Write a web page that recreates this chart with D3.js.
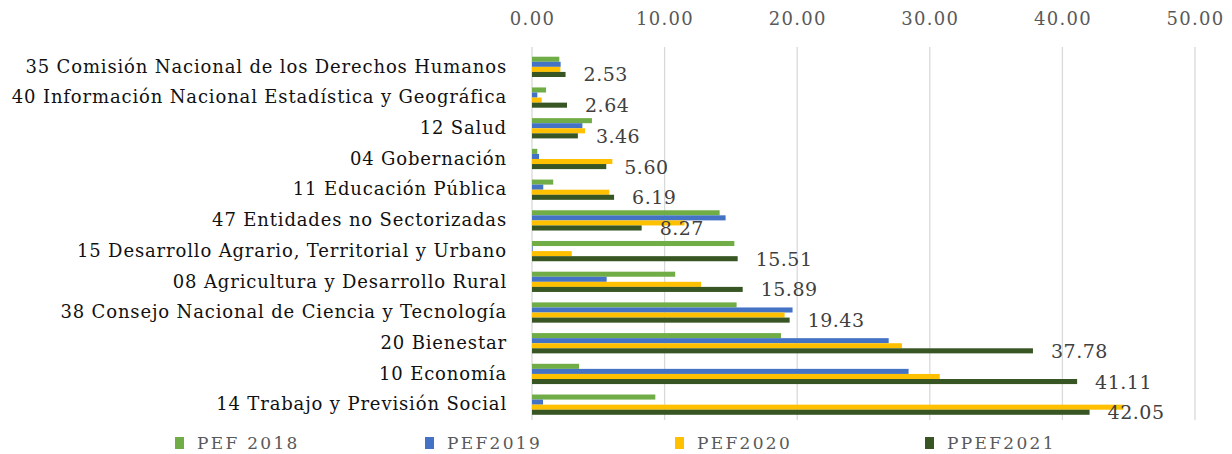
<!DOCTYPE html>
<html>
<head>
<meta charset="utf-8">
<script src="https://cdn.jsdelivr.net/npm/d3@7"></script>
<style>
  body { margin: 0; background: #fff; }
  svg { display: block; }
  svg text { font-family: "DejaVu Serif", "Liberation Serif", serif; }
</style>
</head>
<body>
<div id="chart"></div>
<script>
// categories (top to bottom)
const categories = [
  "35 Comisión Nacional de los Derechos Humanos",
  "40 Información Nacional Estadística y Geográfica",
  "12 Salud",
  "04 Gobernación",
  "11 Educación Pública",
  "47 Entidades no Sectorizadas",
  "15 Desarrollo Agrario, Territorial y Urbano",
  "08 Agricultura y Desarrollo Rural",
  "38 Consejo Nacional de Ciencia y Tecnología",
  "20 Bienestar",
  "10 Economía",
  "14 Trabajo y Previsión Social"
];
const seriesNames = ["PEF 2018", "PEF2019", "PEF2020", "PPEF2021"];
const pef2018 = [2.06, 1.06, 4.52, 0.40, 1.60, 14.15, 15.26, 10.80, 15.43, 18.78, 3.55, 9.30];
const pef2019 = [2.16, 0.40, 3.80, 0.53, 0.85, 14.60, 0.05, 5.63, 19.65, 26.90, 28.40, 0.83];
const pef2020 = [2.14, 0.73, 4.00, 6.06, 5.83, 11.50, 3.00, 12.75, 19.05, 27.90, 30.75, 44.60];
const ppef2021 = [2.53, 2.64, 3.46, 5.60, 6.19, 8.27, 15.51, 15.89, 19.43, 37.78, 41.11, 42.05];
const xTicks = [0, 10, 20, 30, 40, 50];
const colors = ["#70ad47", "#4472c4", "#ffc000", "#375623"];

const seriesValues = [pef2018, pef2019, pef2020, ppef2021];

const width = 1232, height = 454;
const svg = d3.select("#chart").append("svg")
  .attr("width", width).attr("height", height);

const x = d3.scaleLinear().domain([0, 50]).range([532, 1195]);
const y0 = d3.scaleBand().domain(categories).range([51.5, 420])
  .paddingInner(0.34).paddingOuter(0.17);
const y1 = d3.scaleBand().domain(seriesNames).range([0, y0.bandwidth()]);

// gridlines
svg.append("g").selectAll("line")
  .data(xTicks).enter().append("line")
  .attr("x1", d => x(d)).attr("x2", d => x(d))
  .attr("y1", 47).attr("y2", 420)
  .attr("stroke", "#d9d9d9").attr("stroke-width", 1.3);

// top axis labels
const xAxis = d3.axisTop(x).tickValues(xTicks).tickFormat(d3.format(".2f")).tickSize(0);
const gx = svg.append("g").attr("transform", "translate(0,28)").call(xAxis);
gx.attr("font-family", null);
gx.select(".domain").remove();
gx.selectAll("text")
  .attr("font-size", 18).attr("fill", "#595959")
  .style("letter-spacing", "1.3px");

// category labels
const yAxis = d3.axisLeft(y0).tickSize(0).tickPadding(0);
const gy = svg.append("g").attr("transform", "translate(507,0)").call(yAxis);
gy.attr("font-family", null);
gy.select(".domain").remove();
gy.selectAll("text")
  .attr("font-size", 18).attr("fill", "#111")
  .style("letter-spacing", "0.85px");

// bars
const groups = svg.append("g").selectAll("g")
  .data(categories).enter().append("g")
  .attr("transform", d => "translate(0," + y0(d) + ")");

groups.selectAll("rect")
  .data((c, i) => seriesNames.map((s, j) => ({ s, v: seriesValues[j][i], j })))
  .enter().append("rect")
  .attr("x", x(0))
  .attr("y", d => y1(d.s))
  .attr("width", d => x(d.v) - x(0))
  .attr("height", y1.bandwidth())
  .attr("fill", d => colors[d.j]);

// data labels (PPEF2021)
groups.append("text")
  .attr("x", (c, i) => x(ppef2021[i]) + 18)
  .attr("y", y1("PPEF2021") + y1.bandwidth() / 2)
  .attr("dominant-baseline", "central")
  .attr("font-size", 19).attr("fill", "#404040")
  .style("letter-spacing", "0.5px")
  .text((c, i) => ppef2021[i].toFixed(2));

// legend
const legend = svg.append("g").selectAll("g")
  .data(seriesNames).enter().append("g")
  .attr("transform", (d, i) => "translate(" + (175 + i * 250) + ",437)");
legend.append("rect")
  .attr("width", 9).attr("height", 12)
  .attr("fill", (d, i) => colors[i]);
legend.append("text")
  .attr("x", 22).attr("y", 12)
  .attr("font-size", 17).attr("fill", "#595959")
  .style("letter-spacing", "2.3px")
  .text(d => d);
</script>
</body>
</html>
